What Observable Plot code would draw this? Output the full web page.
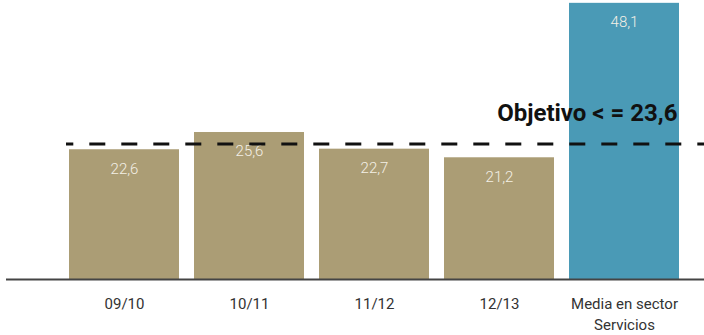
<!DOCTYPE html>
<html>
<head>
<meta charset="utf-8">
<script src="https://cdn.jsdelivr.net/npm/d3@7"></script>
<script src="https://cdn.jsdelivr.net/npm/@observablehq/plot@0.6"></script>
<style>
  html, body { margin: 0; padding: 0; background: #fff; }
  #chart svg { display: block; }
</style>
</head>
<body>
<div id="chart"></div>
<script>
const categories = ["09/10", "10/11", "11/12", "12/13", "Media en sector\nServicios"];
const values = [22.6, 25.6, 22.7, 21.2, 48.1];
const groups = ["curso", "curso", "curso", "curso", "sector"];
const target = 23.6;
const targetLabel = "Objetivo < = 23,6";

const data = categories.map((c, i) => ({cat: c, value: values[i], group: groups[i]}));
const fmt = v => v.toFixed(1).replace(".", ",");

const chart = Plot.plot({
  width: 704,
  height: 335,
  marginTop: 8,
  marginBottom: 56,
  marginLeft: 6,
  marginRight: 0,
  style: {fontFamily: "Roboto, sans-serif", background: "#fff"},
  x: {domain: categories, padding: 0.12, insetLeft: 47, insetRight: 9, label: null},
  y: {domain: [0, 47.2], axis: null},
  color: {domain: ["curso", "sector"], range: ["#ab9d75", "#4a9ab6"]},
  marks: [
    Plot.barY(data, {x: "cat", y: "value", fill: "group"}),
    Plot.text(data, {
      x: "cat", y: "value", text: d => fmt(d.value),
      dy: 19, fill: "#f4f0e6", fontSize: 15, fontWeight: 300
    }),
    Plot.ruleY([0], {stroke: "#444", strokeWidth: 2}),
    Plot.ruleY([target], {
      stroke: "#111", strokeWidth: 3, strokeDasharray: "16,16",
      strokeDashoffset: 8.7, insetLeft: 60
    }),
    Plot.text([target], {
      y: d => d, text: [targetLabel], frameAnchor: "right", textAnchor: "end",
      dx: -27, dy: -30.5, fontSize: 24, fontWeight: 700, fill: "#111"
    }),
    Plot.axisX({
      tickSize: 0, tickPadding: 15, fontSize: 15, fill: "#333",
      lineAnchor: "top", lineHeight: 1.38, label: null
    })
  ]
});
document.getElementById("chart").appendChild(chart);
</script>
</body>
</html>
